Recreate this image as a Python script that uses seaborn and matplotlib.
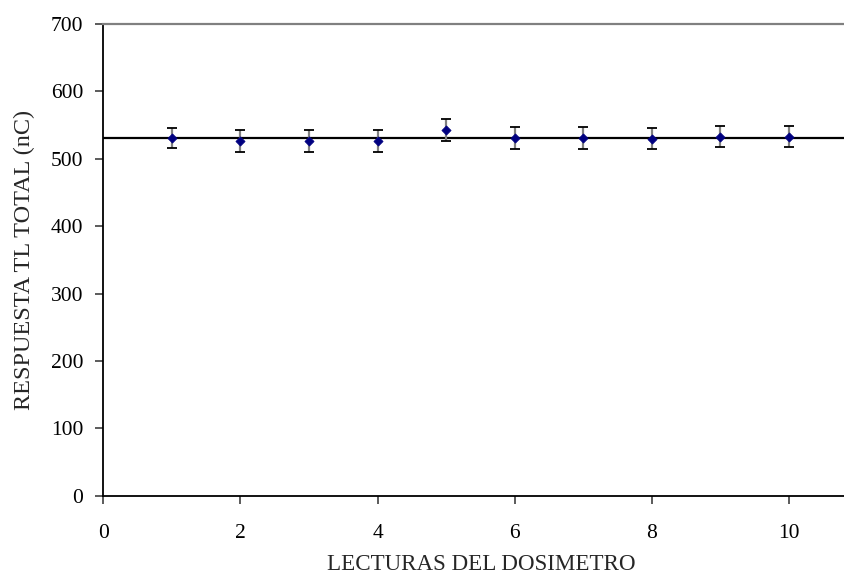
import matplotlib
matplotlib.use("Agg")
import matplotlib.pyplot as plt
import seaborn as sns
import numpy as np
import pandas as pd

lecturas = [1, 2, 3, 4, 5, 6, 7, 8, 9, 10]
respuesta = [531, 526, 526, 526, 543, 531, 531, 530, 533, 533]
error = [15, 16, 16, 16, 16, 16, 16, 16, 16, 16]
x_ticks = [0, 2, 4, 6, 8, 10]
y_ticks = [0, 100, 200, 300, 400, 500, 600, 700]

df = pd.DataFrame({"x": lecturas, "y": respuesta, "err": error})

sns.set_style("white")
plt.rcParams['font.family'] = ['Liberation Serif', 'DejaVu Serif']

fig = plt.figure(figsize=(8.45, 5.76), dpi=100)
ax = fig.add_axes([0.1223, 0.1394, 1.0 - 0.1223, 0.9583 - 0.1394])

mean_val = float(np.mean(respuesta))
ax.axhline(mean_val, color="black", lw=1.6, zorder=1)

ax.errorbar(df["x"], df["y"], yerr=df["err"], fmt="none", ecolor="#808080",
            elinewidth=1.6, capsize=0, zorder=2)
ax.errorbar(df["x"], df["y"], yerr=df["err"], fmt="none", ecolor="black",
            elinewidth=0, capsize=3.5, capthick=1.3, zorder=2)
sns.scatterplot(data=df, x="x", y="y", marker="D", color="#000080", s=22,
                edgecolor="#000080", linewidth=0.5, ax=ax, zorder=3)

ax.set_xlim(0, 10.82)
ax.set_ylim(0, 700)
ax.set_xticks(x_ticks)
ax.set_yticks(y_ticks)
ax.set_xticklabels([str(t) for t in x_ticks])
ax.set_yticklabels([str(t) for t in y_ticks])

for s in ["left", "bottom"]:
    ax.spines[s].set_color("black")
    ax.spines[s].set_linewidth(1.3)
ax.spines["top"].set_color("#808080")
ax.spines["top"].set_linewidth(1.6)
ax.spines["right"].set_visible(False)

ax.tick_params(axis="both", direction="out", length=5.5, width=1.2,
               color="#404040", labelsize=15.5, labelcolor="black")
ax.tick_params(axis="x", pad=15, bottom=True)
ax.tick_params(axis="y", pad=9, left=True)

ax.set_xlabel("LECTURAS DEL DOSIMETRO", fontsize=16.6, labelpad=8)
ax.xaxis.label.set_x(0.51)
ax.set_ylabel("RESPUESTA TL TOTAL (nC)", fontsize=17.5, labelpad=11)

fig.savefig("out.png", dpi=100)
